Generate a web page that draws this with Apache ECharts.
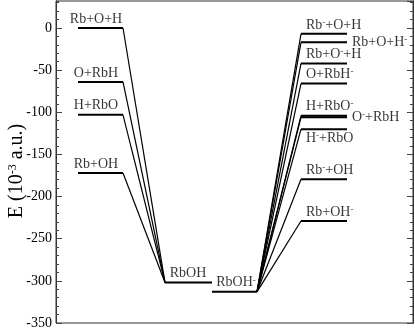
<!DOCTYPE html>
<html>
<head>
<meta charset="utf-8">
<script src="https://cdn.jsdelivr.net/npm/echarts@6/dist/echarts.min.js"></script>
<style>
  html, body { margin: 0; padding: 0; background: #fff; }
  #energyChart { width: 415px; height: 330px; }
</style>
</head>
<body>
<div id="energyChart"></div>
<script>
// energies, 10^-3 a.u.
const leftNames = ['Rb+O+H', 'O+RbH', 'H+RbO', 'Rb+OH'];
const leftE = [0, -64, -103, -172];
const minNames = ['RbOH', 'RbOH⁻'];
const minE = [-302, -313];
const rightNames = ['Rb⁻+O+H', 'Rb+O+H⁻', 'Rb+O⁻+H', 'O+RbH⁻', 'H+RbO⁻', 'O⁻+RbH', 'H⁻+RbO', 'Rb⁻+OH', 'Rb+OH⁻'];
const rightE = [-7, -17, -42, -66, -104, -106, -120, -179.5, -229];
const yTicks = [-350, -300, -250, -200, -150, -100, -50, 0];

// column spans of the diagram (x in plot units)
const COL = {left: [22, 67], neutral: [109, 156], anion: [156, 201], right: [245, 291]};
const FONT = 'Liberation Serif';
// where the label sits for the crowded right hand levels
const sideLabel = {'Rb+O+H⁻': 'right', 'O⁻+RbH': 'right', 'H⁻+RbO': 'bottom'};

const sup = (s) => s.split('⁻').join('{s|-}');

let levels = [], links = [], labels = [];

leftE.forEach((e, i) => {
  levels.push({coords: [[COL.left[0], e], [COL.left[1], e]]});
  links.push({coords: [[COL.left[1], e], [COL.neutral[0], minE[0]]]});
  labels.push({value: [40, e], name: leftNames[i], label: {position: 'top', align: 'center'}});
});

levels.push({coords: [[COL.neutral[0], minE[0]], [COL.neutral[1], minE[0]]]});
levels.push({coords: [[COL.anion[0], minE[1]], [COL.anion[1], minE[1]]]});
labels.push({value: [132, minE[0]], name: minNames[0], label: {position: 'top', align: 'center'}});
labels.push({value: [180, minE[1]], name: minNames[1], label: {position: 'top', align: 'center'}});

rightE.forEach((e, i) => {
  levels.push({coords: [[COL.right[0], e], [COL.right[1], e]]});
  links.push({coords: [[COL.anion[1], minE[1]], [COL.right[0], e]]});
  let pos = sideLabel[rightNames[i]] || 'top';
  if (pos === 'right') {
    labels.push({value: [COL.right[1], e], name: rightNames[i], label: {position: 'right', distance: 5}});
  } else {
    labels.push({value: [250, e], name: rightNames[i], label: {position: pos, align: 'left'}});
  }
});

const yMin = yTicks[0];
const yStep = yTicks[1] - yTicks[0];
const yMax = 32;

function frameAxis(side, major) {
  return {
    type: 'value', position: side, min: yMin, max: yMax,
    interval: major ? yStep : 10,
    axisLine: {show: true, lineStyle: {color: '#333', width: 1}},
    axisTick: {show: true, inside: true, length: major ? 6 : 3, lineStyle: {color: '#444'}},
    axisLabel: {show: false},
    splitLine: {show: false}
  };
}

let myChart = echarts.init(document.getElementById('energyChart'));
let option = {
  animation: false,
  grid: {
    left: 56, right: 2, top: 1, bottom: 7,
    outerBoundsMode: 'none', containLabel: false,
    show: true, borderColor: '#333', borderWidth: 1
  },
  xAxis: {
    type: 'value', min: 0, max: 357,
    axisLine: {show: false}, axisTick: {show: false}, axisLabel: {show: false}, splitLine: {show: false}
  },
  yAxis: [
    Object.assign(frameAxis('left', true), {
      axisLabel: {
        show: true, showMaxLabel: false, margin: 4,
        fontFamily: FONT, fontSize: 14, color: '#000'
      },
      name: 'E (10{s|-3} a.u.)',
      nameLocation: 'middle', nameGap: 29, nameRotate: 90, nameMoveOverlap: false,
      nameTextStyle: {
        fontFamily: FONT, fontSize: 20, color: '#000', padding: [0, 18, 0, 0],
        rich: {s: {fontFamily: FONT, fontSize: 12, verticalAlign: 'top', color: '#000'}}
      }
    }),
    frameAxis('left', false),
    frameAxis('right', true),
    frameAxis('right', false)
  ],
  series: [
    {
      type: 'lines', coordinateSystem: 'cartesian2d', polyline: true,
      lineStyle: {color: '#000', width: 1.2, opacity: 1},
      data: links
    },
    {
      type: 'lines', coordinateSystem: 'cartesian2d', polyline: true,
      lineStyle: {color: '#000', width: 2, opacity: 1},
      data: levels
    },
    {
      type: 'scatter', symbolSize: 0,
      label: {
        show: true, distance: 2, color: '#000', fontFamily: FONT, fontSize: 14,
        formatter: (p) => sup(p.name),
        rich: {s: {fontFamily: FONT, fontSize: 9, verticalAlign: 'top', color: '#000'}}
      },
      data: labels
    }
  ]
};
myChart.setOption(option);
</script>
</body>
</html>
